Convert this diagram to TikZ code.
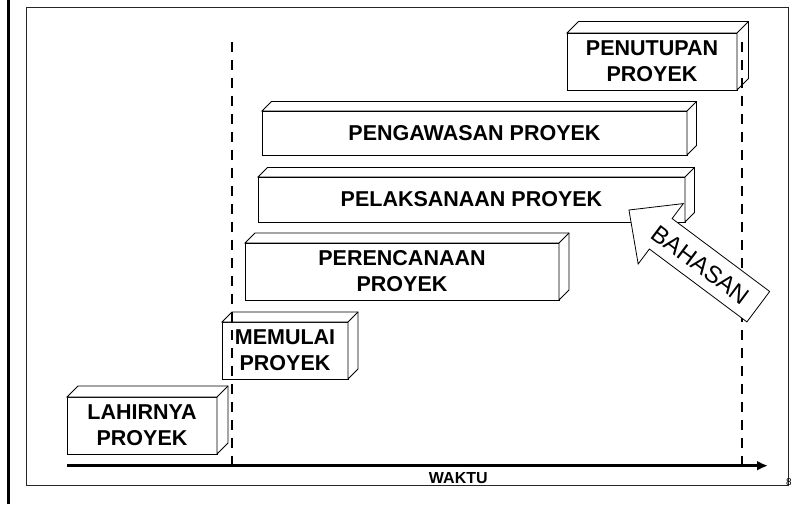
\documentclass[tikz,border=0pt]{standalone}
\usepackage{fontspec}
\setmainfont{Liberation Sans}
\usetikzlibrary{arrows.meta}
\tikzset{
  box3d/.style={draw, fill=white, line width=0.8pt, inner sep=0pt, outer sep=0pt,
    align=center, font=\bfseries\fontsize{21.5}{26}\selectfont},
  depthface/.style={draw, fill=white, line width=0.8pt, line join=miter},
  timeline/.style={line width=2pt, dash pattern=on 10pt off 8pt},
  axis/.style={line width=3pt, -{Latex[length=11pt,width=10pt]}},
  bigarrow/.style={draw, fill=white, line width=0.8pt, line join=miter}
}
\begin{document}
\begin{tikzpicture}[x=1pt,y=1pt]
\useasboundingbox (0,0) rectangle (792,504);
% frame
\draw[line width=2.5pt] (8.7,0) -- (8.7,504);
\draw[line width=0.9pt, draw=black!85] (26.7,19) rectangle (788.3,496.7);
% boxes
\node[box3d, minimum width=150pt, minimum height=57pt] (lahir) at (142,78.5) {LAHIRNYA\\PROYEK};
\node[box3d, minimum width=126pt, minimum height=57pt] (mulai) at (285,153.5) {MEMULAI\\PROYEK};
\node[box3d, minimum width=314pt, minimum height=57pt] (rencana) at (402,232.5) {PERENCANAAN\\PROYEK};
\node[box3d, minimum width=427pt, minimum height=45pt] (laksana) at (471.5,304.5) {PELAKSANAAN PROYEK};
\node[box3d, minimum width=425pt, minimum height=44pt] (awas) at (474.5,371) {PENGAWASAN PROYEK};
\node[box3d, minimum width=170pt, minimum height=57pt] (tutup) at (652,442.5) {PENUTUPAN\\PROYEK};
% depth faces (top and right)
\foreach \n/\d in {lahir/11, mulai/10, rencana/10, laksana/9.5, awas/9.5, tutup/11.5}{
  \draw[depthface] (\n.north west) -- ++(\d,\d) -- ([shift={(\d,\d)}]\n.north east)
    -- ([shift={(\d,\d)}]\n.south east) -- (\n.south east) -- (\n.north east) -- cycle;
  \draw[line width=0.8pt] (\n.north east) -- ([shift={(\d,\d)}]\n.north east);
}
% time axis
\coordinate (axstart) at (67,38.3);
\coordinate (axend) at (768,38.3);
\draw[axis] (axstart) -- (axend);
\node[font=\bfseries\fontsize{16}{18}\selectfont] (waktu) at (458.3,26.4) {WAKTU};
% dashed time lines
\coordinate (d1top) at (232,462.3);
\coordinate (d1bot) at (232,38.3);
\coordinate (d2top) at (742,462.3);
\coordinate (d2bot) at (742,38.3);
\draw[timeline] (d1top) -- (d1bot);
\draw[timeline] (d2top) -- (d2bot);
% BAHASAN arrow
\begin{scope}[shift={(758.3,197.3)}, rotate=143.22]
\draw[bigarrow] (0,-19) -- (121.8,-19) -- (121.8,-37.7) -- (161.5,0) -- (121.8,37.7) -- (121.8,19) -- (0,19) -- cycle;
\end{scope}
\node[rotate=-36.78, font=\fontsize{24}{28}\selectfont] (bahasan) at (700.8,239) {BAHASAN};
% page number
\node[anchor=west, inner sep=0pt, font=\fontsize{10}{12}\selectfont] (pnum) at (786,21.5) {8};
\end{tikzpicture}
\end{document}
